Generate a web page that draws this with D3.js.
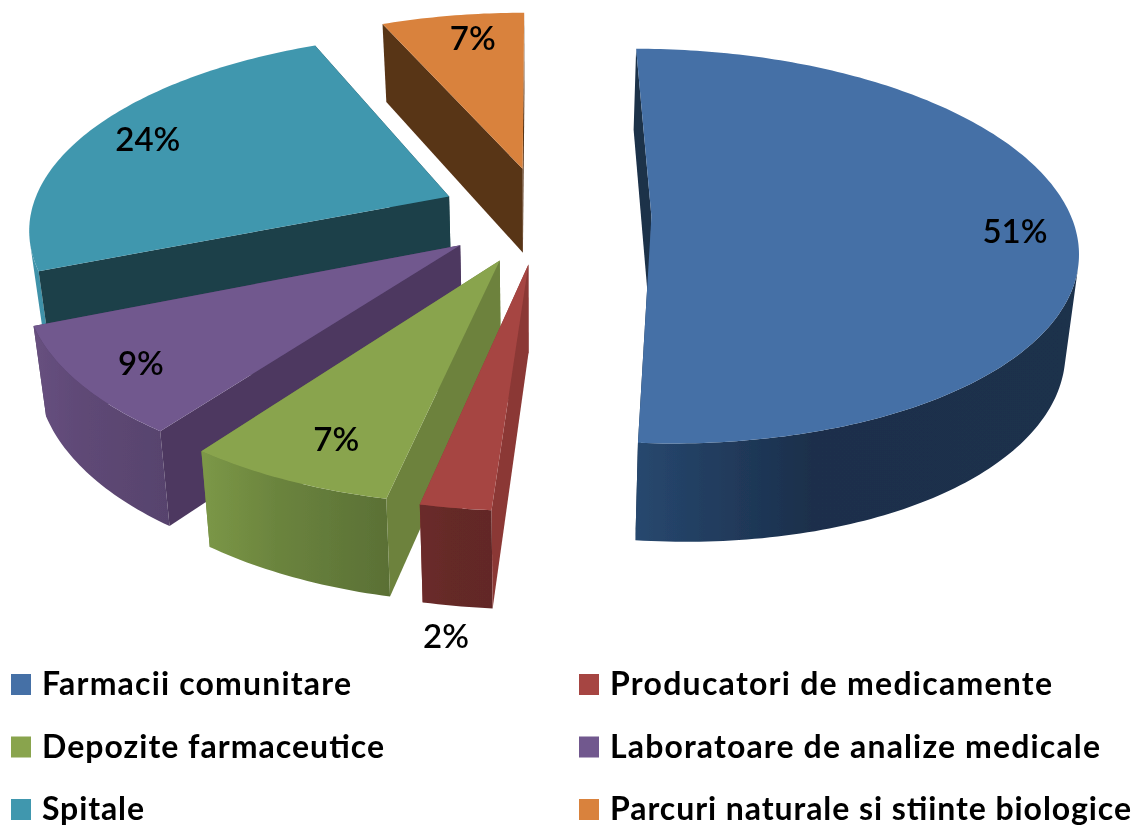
<!DOCTYPE html>
<html><head><meta charset="utf-8">
<script src="https://cdn.jsdelivr.net/npm/d3@7/dist/d3.min.js"></script>
<style>html,body{margin:0;padding:0;background:#fff}svg{display:block}text{font-family:Lato,"Open Sans",sans-serif;fill:#000}</style>
</head><body><div id="chart"></div>
<script>
const categories = ["Farmacii comunitare","Producatori de medicamente","Depozite farmaceutice","Laboratoare de analize medicale","Spitale","Parcuri naturale si stiinte biologice"];
const values = [51.1,2.25,6.7,8.8,24.65,6.5];
const percentLabels = ["51%","2%","7%","9%","24%","7%"];
const topColors = ["#4470a6","#a64542","#89a44e","#71588e","#4197ae","#d9823c"];
const faceColors = ["#1b3049","#8b3936","#6d823e","#4d3960","#1b4049","#593417"];
const outerLeft = ["#27486f","#6b2b2a","#7c9847","#67507f","#3f92a9","#a8642e"];
const outerMid = ["#1b2f4b","#652928","#6b843e","#5e4875","#3a8ba2","#a8642e"];
const outerRight = ["#1c304c","#622827","#5a7035","#57436d","#3a8ba2","#a8642e"];
const labelReach = [0.85,1.42,0.85,0.85,0.85,0.85];
const labelDx = [5,30,13,0,5,11];
const labelDy = [9,-3,-4,3,0,2];
const legendWidths = [309,442,342,490,102,521];

const W=1136,H=828;
const vx=535,s0=217.5,k=0.46,p=0.00036,R=420,shrink=0.025;
const explodeX=103,explodeY=106,blueExtra=5.6;
const cx=8,cy=-6.3;
const svg=d3.select("#chart").append("svg").attr("width",W).attr("height",H).attr("viewBox",[0,0,W,H]);
const defs=svg.append("defs");
defs.append("filter").attr("id","soft").attr("x",0).attr("y",0).attr("width",1).attr("height",1)
  .attr("filterUnits","objectBoundingBox").append("feGaussianBlur").attr("stdDeviation",0.55);
const root=svg.append("g").attr("filter","url(#soft)");
root.append("rect").attr("width",W).attr("height",H).attr("fill","#fff");

const depth=d3.scaleLinear().domain([25,505]).range([78,98]);
const project=([X,y])=>{const w=1/(1-p*y);return [vx+X*w,s0+k*y*w];};
const drop=([sx,sy])=>[sx-(sx-vx)*shrink,sy+depth(sy)+Math.max(0,sx-vx)*0.02];
const line=d3.line();

const arcs=d3.pie().sort(null).value(d=>d)(values);
const slices=arcs.map((a,i)=>{
  const mid=(a.startAngle+a.endAngle)/2;
  const ax=cx+(explodeX+(i===0?blueExtra:0))*Math.sin(mid), ay=cy-explodeY*Math.cos(mid);
  const pt=(ang,r)=>[ax+r*Math.sin(ang),ay-r*Math.cos(ang)];
  const n=Math.max(6,Math.ceil((a.endAngle-a.startAngle)*60));
  const ang=d3.range(n+1).map(t=>a.startAngle+(a.endAngle-a.startAngle)*t/n);
  const arcTop=ang.map(t=>project(pt(t,R)));
  const apex=project([ax,ay]);
  return {i,mid,ax,ay,pt,arcTop,apex};
});

const order=[5,4,3,2,1,0];
order.forEach(i=>{
  const s=slices[i], g=root.append("g");
  const arcBot=s.arcTop.map(drop);
  const xs=arcBot.concat(s.arcTop).map(d=>d[0]);
  const gx=d3.extent(xs);
  const id="outer"+i;
  const grad=defs.append("linearGradient").attr("id",id).attr("gradientUnits","userSpaceOnUse")
    .attr("x1",gx[0]).attr("x2",gx[1]).attr("y1",0).attr("y2",0);
  [[0,outerLeft],[0.4,outerMid],[1,outerRight]].forEach(([o,c])=>grad.append("stop").attr("offset",o).attr("stop-color",c[i]));
  const last=s.arcTop[s.arcTop.length-1], first=s.arcTop[0];
  g.append("path").attr("d",line([s.apex,last,drop(last),drop(s.apex)])+"Z").attr("fill",faceColors[i]);
  // outer wall: only the stretch of the rim that faces the viewer
  const front=d3.pairs(d3.range(s.arcTop.length)).filter(([a,b])=>
    d3.polygonArea([s.arcTop[a],s.arcTop[b],arcBot[b],arcBot[a]])>0);
  if(front.length){
    const i0=front[0][0], i1=front[front.length-1][1];
    const topPart=s.arcTop.slice(i0,i1+1), botPart=arcBot.slice(i0,i1+1).reverse();
    g.append("path").attr("d",line(topPart.concat(botPart))+"Z").attr("fill",`url(#${id})`);
  }
  g.append("path").attr("d",line([s.apex,first,drop(first),drop(s.apex)])+"Z").attr("fill",faceColors[i]);
  g.append("path").attr("d",line([s.apex].concat(s.arcTop))+"Z").attr("fill",topColors[i]);
});

slices.forEach((s,i)=>{
  const q=project(s.pt(s.mid,R*labelReach[i]));
  root.append("text").attr("x",q[0]+labelDx[i]).attr("y",q[1]+12+labelDy[i]).attr("text-anchor","middle")
    .attr("font-size",33).attr("font-weight",600).text(percentLabels[i]);
});

const rowY=d3.scalePoint().domain([0,1,2]).range([695,820]);
const colX=d3.scalePoint().domain([0,1]).range([11,579]);
categories.forEach((c,i)=>{
  const r=Math.floor(i/2),cl=i%2;
  root.append("rect").attr("x",colX(cl)).attr("y",rowY(r)-21).attr("width",20).attr("height",21).attr("fill",topColors[i]);
  root.append("text").attr("x",colX(cl)+31).attr("y",rowY(r)).attr("font-size",32).attr("font-weight",700)
    .attr("textLength",legendWidths[i]).attr("lengthAdjust","spacing").text(c);
});
</script></body></html>
